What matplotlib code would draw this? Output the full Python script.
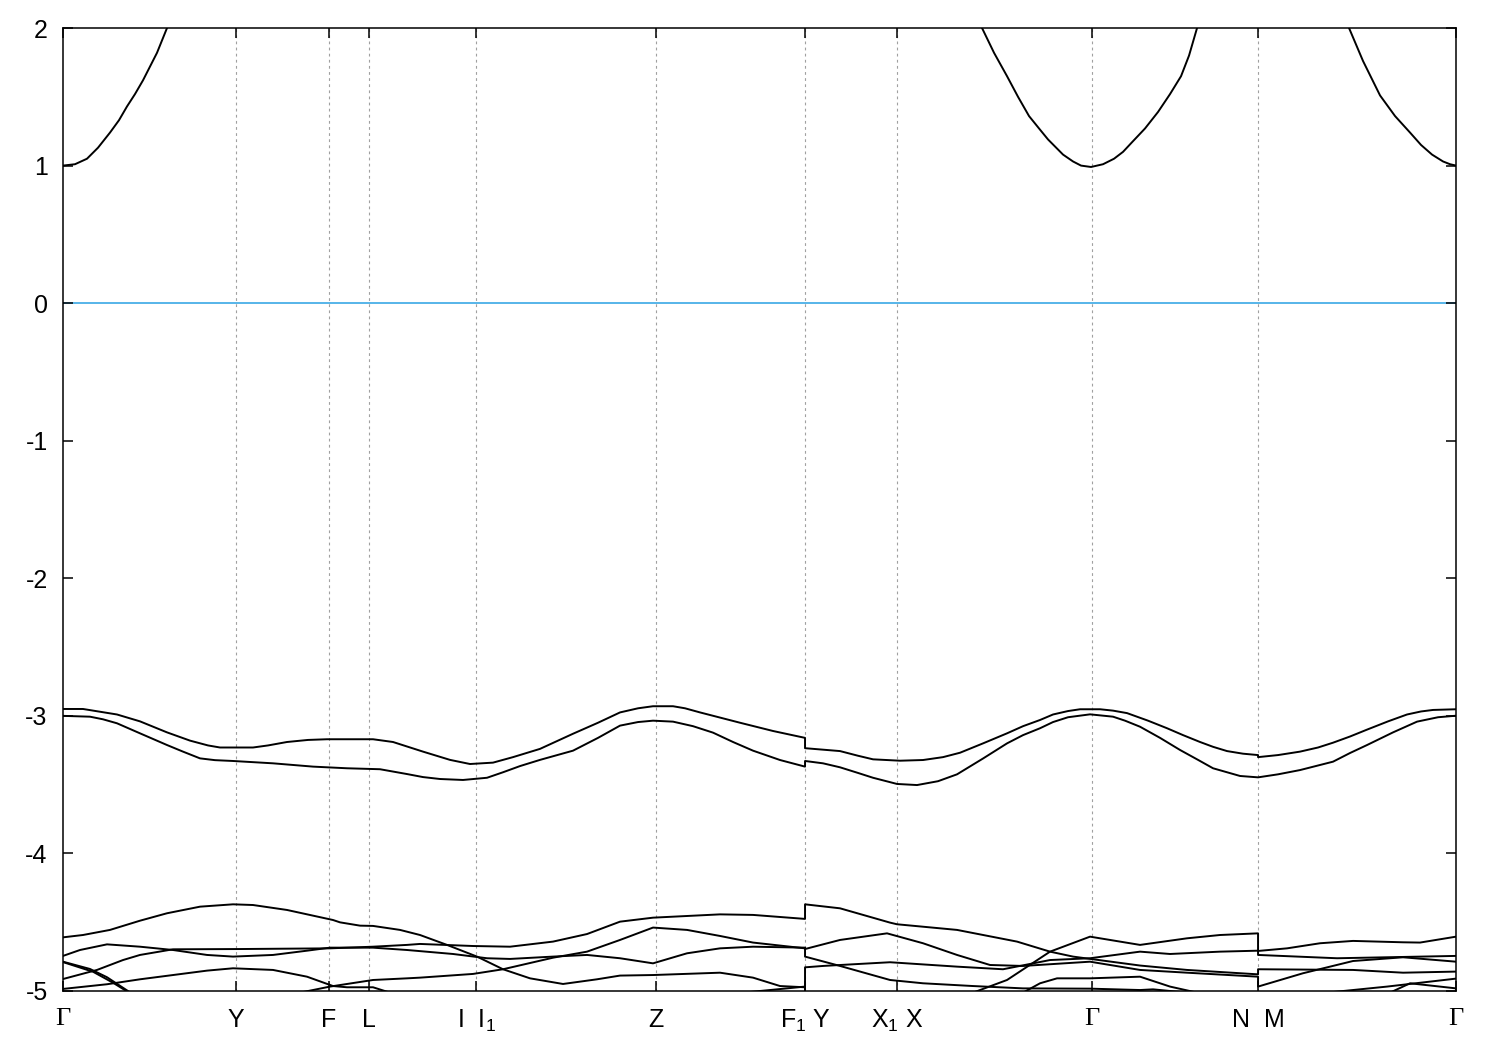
import matplotlib
matplotlib.use("Agg")
import matplotlib.pyplot as plt

plt.rcParams['font.family'] = ['Liberation Sans', 'DejaVu Sans']
plt.rcParams['mathtext.fontset'] = 'custom'
plt.rcParams['mathtext.rm'] = 'Liberation Sans'
plt.rcParams['mathtext.it'] = 'Liberation Sans'
plt.rcParams['axes.unicode_minus'] = False

# high-symmetry points along the k-path (path length units)
kpt_pos = [0.000, 0.173, 0.266, 0.306, 0.413, 0.593, 0.742, 0.834, 1.029, 1.195, 1.393]
kpt_labels = ['Γ', 'Y', 'F', 'L', 'I  I$_1$', 'Z', 'F$_1$ Y', 'X$_1$ X', 'Γ', 'N  M', 'Γ']
e_ticks = [-5, -4, -3, -2, -1, 0, 1, 2]
e_fermi = 0.0

# conduction band pieces (k, E in eV)
cb_g0 = [(0.000, 1.00), (0.012, 1.01), (0.024, 1.05), (0.035, 1.13), (0.047, 1.24),
         (0.056, 1.33), (0.064, 1.43), (0.072, 1.52), (0.080, 1.62), (0.087, 1.72),
         (0.094, 1.82), (0.104, 2.00), (0.112, 2.15)]
cb_g1 = [(0.912, 2.10), (0.919, 2.00), (0.931, 1.82), (0.944, 1.65), (0.955, 1.50),
         (0.966, 1.36), (0.976, 1.27), (0.985, 1.19), (1.000, 1.08), (1.010, 1.03),
         (1.018, 1.00), (1.028, 0.99), (1.040, 1.01), (1.051, 1.05), (1.060, 1.10),
         (1.069, 1.17), (1.082, 1.27), (1.095, 1.39), (1.107, 1.52), (1.118, 1.65),
         (1.126, 1.80), (1.134, 2.00), (1.139, 2.10)]
cb_g2 = [(1.279, 2.10), (1.286, 2.00), (1.300, 1.76), (1.317, 1.51), (1.332, 1.36),
         (1.347, 1.24), (1.358, 1.15), (1.369, 1.08), (1.380, 1.03), (1.387, 1.01),
         (1.393, 1.00)]

# valence pair near -3 eV
vb_a = [(0.000, -2.95), (0.020, -2.95), (0.054, -2.99), (0.077, -3.04), (0.104, -3.12),
        (0.127, -3.18), (0.145, -3.215), (0.157, -3.23), (0.190, -3.23), (0.205, -3.215),
        (0.224, -3.19), (0.245, -3.175), (0.264, -3.17), (0.310, -3.17), (0.330, -3.19),
        (0.345, -3.225), (0.360, -3.26), (0.387, -3.32), (0.407, -3.35), (0.430, -3.34),
        (0.450, -3.30), (0.477, -3.24), (0.510, -3.13), (0.535, -3.05), (0.557, -2.975),
        (0.575, -2.945), (0.590, -2.93), (0.610, -2.93), (0.622, -2.945), (0.637, -2.975),
        (0.677, -3.05), (0.710, -3.11), (0.742, -3.16),
        (0.742, -3.235), (0.777, -3.256), (0.795, -3.29), (0.810, -3.316), (0.837, -3.326),
        (0.860, -3.321), (0.880, -3.30), (0.897, -3.268), (0.920, -3.20), (0.944, -3.127),
        (0.960, -3.075), (0.977, -3.03), (0.990, -2.99), (1.005, -2.965), (1.017, -2.952),
        (1.037, -2.952), (1.050, -2.962), (1.064, -2.98), (1.085, -3.035), (1.104, -3.09),
        (1.120, -3.14), (1.137, -3.19), (1.150, -3.225), (1.164, -3.256), (1.180, -3.275),
        (1.195, -3.285),
        (1.195, -3.30), (1.215, -3.285), (1.237, -3.26), (1.255, -3.23), (1.270, -3.195),
        (1.287, -3.15), (1.304, -3.10), (1.325, -3.04), (1.344, -2.99), (1.358, -2.968),
        (1.370, -2.957), (1.393, -2.952)]
vb_b = [(0.000, -3.00), (0.027, -3.006), (0.040, -3.025), (0.054, -3.054), (0.077, -3.127),
        (0.104, -3.212), (0.120, -3.26), (0.137, -3.309), (0.152, -3.322), (0.170, -3.328),
        (0.210, -3.345), (0.250, -3.369), (0.284, -3.381), (0.317, -3.388), (0.344, -3.423),
        (0.360, -3.445), (0.377, -3.459), (0.400, -3.466), (0.424, -3.450), (0.440, -3.41),
        (0.457, -3.365), (0.477, -3.32), (0.510, -3.253), (0.535, -3.16), (0.557, -3.071),
        (0.575, -3.045), (0.590, -3.035), (0.610, -3.042), (0.630, -3.075), (0.650, -3.122),
        (0.670, -3.19), (0.690, -3.253), (0.717, -3.321), (0.742, -3.369),
        (0.742, -3.328), (0.760, -3.345), (0.777, -3.374), (0.795, -3.415), (0.810, -3.450),
        (0.834, -3.495), (0.854, -3.503), (0.875, -3.475), (0.894, -3.425), (0.920, -3.31),
        (0.944, -3.20), (0.960, -3.14), (0.977, -3.09), (0.990, -3.045), (1.005, -3.01),
        (1.027, -2.989), (1.050, -3.006), (1.062, -3.035), (1.077, -3.079), (1.097, -3.16),
        (1.117, -3.248), (1.135, -3.32), (1.150, -3.381), (1.177, -3.437), (1.195, -3.447),
        (1.215, -3.425), (1.237, -3.394), (1.270, -3.333), (1.287, -3.27), (1.304, -3.212),
        (1.330, -3.12), (1.354, -3.042), (1.375, -3.01), (1.393, -2.999)]

# lower bands between -4.3 and -5 eV
lb_1 = [(0.000, -4.913), (0.034, -4.847), (0.060, -4.775), (0.077, -4.738), (0.110, -4.697),
        (0.177, -4.695), (0.267, -4.690), (0.310, -4.678), (0.344, -4.665), (0.357, -4.658),
        (0.410, -4.673), (0.447, -4.678), (0.490, -4.641), (0.524, -4.586), (0.557, -4.496),
        (0.590, -4.467), (0.657, -4.443), (0.690, -4.447), (0.742, -4.476),
        (0.742, -4.370), (0.777, -4.399), (0.827, -4.503), (0.834, -4.515), (0.894, -4.556),
        (0.954, -4.641), (0.987, -4.714), (1.010, -4.750), (1.077, -4.815), (1.124, -4.847),
        (1.195, -4.879),
        (1.195, -4.842), (1.290, -4.847), (1.340, -4.867), (1.393, -4.859)]
lb_2 = [(0.000, -4.745), (0.017, -4.702), (0.044, -4.661), (0.077, -4.678), (0.110, -4.702),
        (0.144, -4.738), (0.170, -4.750), (0.210, -4.738), (0.244, -4.707), (0.267, -4.685),
        (0.310, -4.685), (0.344, -4.702), (0.390, -4.731), (0.424, -4.762), (0.447, -4.767),
        (0.490, -4.750), (0.524, -4.738), (0.557, -4.762), (0.590, -4.799), (0.624, -4.726),
        (0.657, -4.690), (0.690, -4.678), (0.742, -4.685),
        (0.742, -4.695), (0.777, -4.629), (0.824, -4.581), (0.860, -4.653), (0.894, -4.738),
        (0.927, -4.811), (0.960, -4.818), (1.027, -4.787), (1.077, -4.847), (1.124, -4.867),
        (1.195, -4.896),
        (1.195, -4.968), (1.240, -4.871), (1.290, -4.782), (1.340, -4.755), (1.393, -4.787)]
lb_3 = [(0.224, -5.06), (0.237, -5.012), (0.267, -4.968), (0.310, -4.920), (0.344, -4.908),
        (0.357, -4.903), (0.410, -4.876), (0.440, -4.842), (0.490, -4.758), (0.524, -4.714),
        (0.557, -4.629), (0.590, -4.539), (0.624, -4.556), (0.657, -4.600), (0.690, -4.648),
        (0.742, -4.690),
        (0.742, -4.750), (0.777, -4.818), (0.827, -4.920), (0.860, -4.944), (0.910, -4.964),
        (0.960, -4.981), (1.027, -4.983), (1.077, -4.993), (1.090, -4.988), (1.124, -5.012),
        (1.150, -5.06)]
lb_4 = [(0.000, -4.610), (0.020, -4.593), (0.047, -4.556), (0.077, -4.489), (0.104, -4.435),
        (0.137, -4.387), (0.170, -4.370), (0.190, -4.375), (0.224, -4.411), (0.270, -4.484),
        (0.277, -4.501), (0.297, -4.525), (0.310, -4.527), (0.337, -4.556), (0.357, -4.593),
        (0.384, -4.665), (0.414, -4.750), (0.440, -4.842), (0.467, -4.908), (0.500, -4.949),
        (0.534, -4.915), (0.557, -4.888), (0.590, -4.884), (0.657, -4.867), (0.690, -4.903),
        (0.717, -4.964), (0.742, -4.973),
        (0.742, -4.828), (0.760, -4.818), (0.827, -4.791), (0.894, -4.823), (0.940, -4.842),
        (0.987, -4.775), (1.027, -4.762), (1.077, -4.714), (1.107, -4.731), (1.157, -4.714),
        (1.195, -4.707),
        (1.195, -4.738), (1.274, -4.762), (1.393, -4.745)]
lb_5 = [(0.667, -5.06), (0.680, -5.012), (0.724, -4.981), (0.742, -4.968), (0.742, -5.06)]
lb_6 = [(0.900, -5.06), (0.910, -5.012), (0.944, -4.920), (0.987, -4.714), (1.027, -4.605),
        (1.077, -4.665), (1.124, -4.617), (1.157, -4.593), (1.195, -4.581),
        (1.195, -4.709), (1.224, -4.690), (1.257, -4.653), (1.290, -4.636), (1.340, -4.646),
        (1.357, -4.648), (1.393, -4.605)]
lb_7 = [(0.955, -5.06), (0.960, -5.012), (0.977, -4.944), (0.994, -4.908), (1.027, -4.908),
        (1.077, -4.896), (1.107, -4.968), (1.134, -5.012), (1.145, -5.06)]
lb_8 = [(0.000, -4.985), (0.044, -4.951), (0.077, -4.915), (0.110, -4.884), (0.144, -4.852),
        (0.170, -4.835), (0.210, -4.847), (0.244, -4.896), (0.270, -4.964), (0.284, -4.973),
        (0.310, -4.973), (0.327, -5.012), (0.344, -5.06)]
lb_9 = [(0.000, -4.787), (0.027, -4.84), (0.044, -4.90), (0.067, -5.01), (0.080, -5.06)]
lb_10 = [(0.000, -4.79), (0.030, -4.86), (0.050, -4.94), (0.070, -5.03), (0.078, -5.06)]
lb_11 = [(1.262, -5.06), (1.264, -5.012), (1.324, -4.968), (1.393, -4.910)]
lb_12 = [(1.320, -5.06), (1.327, -5.012), (1.347, -4.944), (1.393, -4.981)]

bands = [cb_g0, cb_g1, cb_g2, vb_a, vb_b,
         lb_1, lb_2, lb_3, lb_4, lb_5, lb_6, lb_7, lb_8, lb_9, lb_10, lb_11, lb_12]

fig = plt.figure(figsize=(15, 10.5), dpi=100)
ax = fig.add_axes([0.042, 0.0562, 0.9287, 0.9171])

for k in kpt_pos[1:-1]:
    ax.axvline(k, color='#a0a0a0', lw=0.8, ls=(0, (2.5, 3)), zorder=0)

ax.axhline(e_fermi, color='#56b4e9', lw=1.4, zorder=1)

for band in bands:
    k, e = zip(*band)
    ax.plot(k, e, color='black', lw=1.4, zorder=2)

ax.set_xlim(kpt_pos[0], kpt_pos[-1])
ax.set_ylim(-5, 2)
ax.set_xticks(kpt_pos, kpt_labels)
ax.set_yticks(e_ticks, [str(t) for t in e_ticks])
ax.tick_params(direction='in', top=True, right=True, length=7, width=1.1, labelsize=18)
ax.tick_params(axis='y', pad=11)
ax.tick_params(axis='x', pad=12)
for lbl in ax.get_xticklabels():
    if lbl.get_text() == 'Γ':
        lbl.set_fontfamily('Liberation Serif')
        lbl.set_fontsize(19)
for sp in ax.spines.values():
    sp.set_linewidth(1.1)

fig.savefig('out.png', dpi=100)
